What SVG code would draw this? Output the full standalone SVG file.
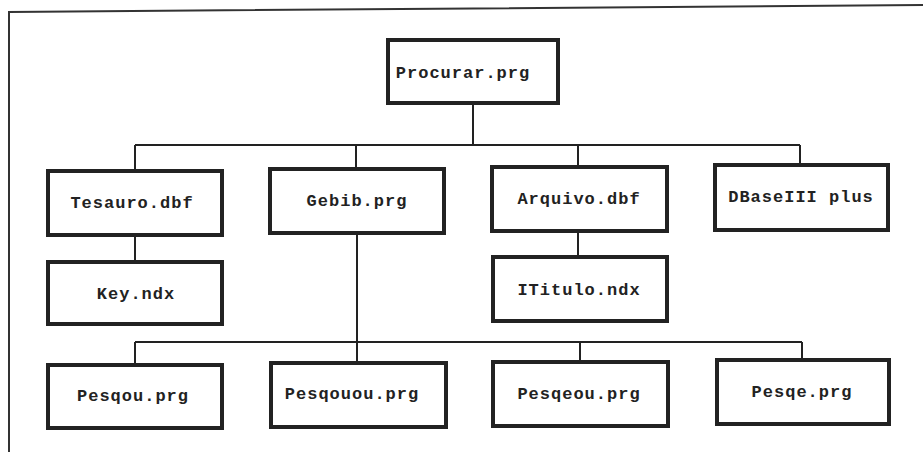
<svg xmlns="http://www.w3.org/2000/svg" width="923" height="452" viewBox="0 0 923 452">
<style>
.box{fill:#fff;stroke:#222;stroke-width:4}
.ln{stroke:#222;stroke-width:2;fill:none}
.frame{stroke:#333;stroke-width:2;fill:none}
text{font-family:"Liberation Mono","DejaVu Sans Mono",monospace;font-weight:bold;font-size:17px;letter-spacing:1px;fill:#222;text-anchor:middle}
</style>
<rect width="923" height="452" fill="#fff"/>
<g id="frame">
<path class="frame" d="M9,452 L9,12 L923,5"/>
</g>
<g id="connectors">
<path class="ln" d="M473,103 V145 M135,145 H800 M135,145 V170 M356,145 V168 M578,145 V167 M800,145 V165"/>
<path class="ln" d="M135,235 V262"/>
<path class="ln" d="M578,231 V257"/>
<path class="ln" d="M357,233 V363 M135,342 H802 M135,342 V365 M580,342 V362 M802,342 V360"/>
</g>
<g id="procurar"><rect class="box" x="388" y="40" width="170" height="63"/><text x="463" y="78">Procurar.prg</text></g>
<g id="tesauro"><rect class="box" x="48" y="171" width="174" height="64"/><text x="132" y="208">Tesauro.dbf</text></g>
<g id="gebib"><rect class="box" x="270" y="169" width="174" height="64"/><text x="357" y="206">Gebib.prg</text></g>
<g id="arquivo"><rect class="box" x="492" y="167" width="175" height="64"/><text x="579" y="204">Arquivo.dbf</text></g>
<g id="dbase"><rect class="box" x="715" y="165" width="173" height="65"/><text x="801" y="202">DBaseIII plus</text></g>
<g id="key"><rect class="box" x="48" y="262" width="174" height="62"/><text x="136" y="299">Key.ndx</text></g>
<g id="ititulo"><rect class="box" x="493" y="257" width="174" height="64"/><text x="579" y="295">ITitulo.ndx</text></g>
<g id="pesqou"><rect class="box" x="48" y="365" width="174" height="63"/><text x="133" y="401">Pesqou.prg</text></g>
<g id="pesqouou"><rect class="box" x="271" y="363" width="175" height="64"/><text x="352" y="399">Pesqouou.prg</text></g>
<g id="pesqeou"><rect class="box" x="493" y="362" width="175" height="64"/><text x="579" y="399">Pesqeou.prg</text></g>
<g id="pesqe"><rect class="box" x="717" y="360" width="172" height="64"/><text x="802" y="397">Pesqe.prg</text></g>
</svg>
